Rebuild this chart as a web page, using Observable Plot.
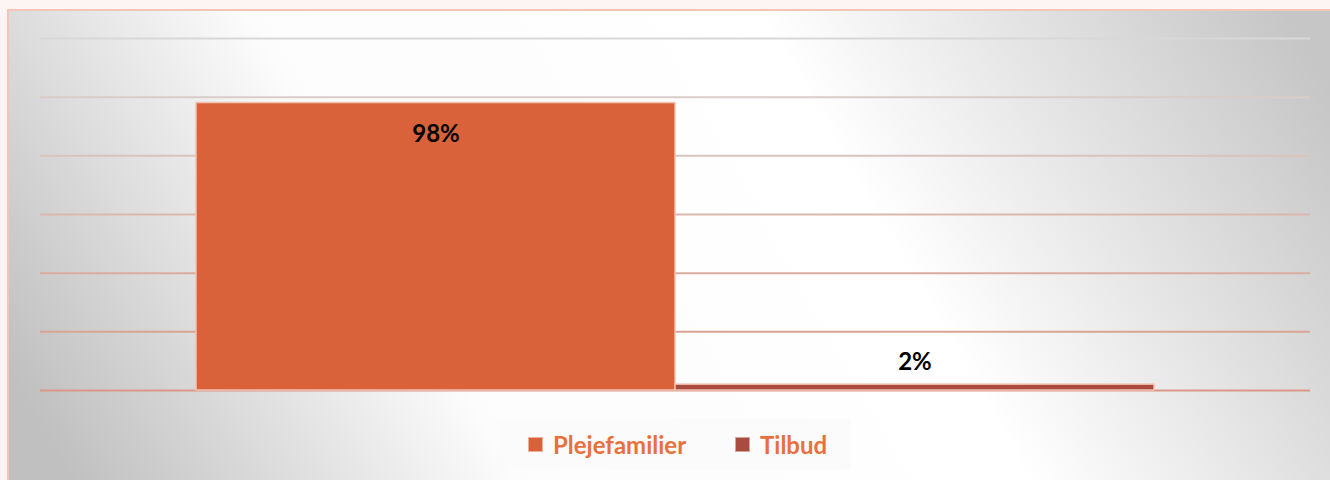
<!DOCTYPE html>
<html><head><meta charset="utf-8">
<script src="https://cdn.jsdelivr.net/npm/d3@7"></script>
<script src="https://cdn.jsdelivr.net/npm/@observablehq/plot@0.6"></script>
<style>
body{margin:0;background:#fdf5f4;width:1330px;height:480px;overflow:hidden;position:relative;font-family:Lato,sans-serif}
#panel{position:absolute;left:7px;top:9px;width:1321px;height:469px;border-left:2px solid #f6c4b2;border-top:2px solid #f6c4b2;background:linear-gradient(60deg,#c0c0c0 4%,#fcfcfc 32%,#ffffff 64%,#c6c6c6 97%)}
#chart{position:absolute;left:0;top:0}
#legend{position:absolute;left:498px;top:419px;width:353px;height:51px;background:rgba(250,250,250,0.8);font-weight:bold;font-size:24px;color:#e8703d}
.item{position:absolute;top:0;height:51px;display:flex;align-items:center}
.sw{width:13px;height:13px;margin-right:10px;border:1px solid rgba(255,255,255,0.5)}
</style>
</head><body>
<div id="panel"></div>
<div id="chart"></div>
<div id="legend"></div>
<script>
const series = ["Plejefamilier", "Tilbud"];
const values = [98, 2];
const labels = ["98%", "2%"];
const colors = ["#d9623a", "#a94b3f"];
const gridTicks = [0, 20, 40, 60, 80, 100, 120];

const data = series.map((s, i) => ({series: s, value: values[i], label: labels[i], color: colors[i]}));
const gridColor = d3.interpolateRgb("#dc9886", "#d8d8d8");

const plot = Plot.plot({
  width: 1330,
  height: 410,
  marginLeft: 40,
  marginRight: 20,
  marginTop: 38,
  marginBottom: 20,
  style: {background: "transparent", fontFamily: "Lato, sans-serif", overflow: "visible"},
  x: {domain: series, paddingInner: 0, paddingOuter: 0.323, axis: null},
  y: {domain: [0, 120], axis: null},
  marks: [
    Plot.ruleY(gridTicks, {y: d => d, stroke: d => gridColor(d / 120), strokeWidth: 2}),
    Plot.barY(data, {x: "series", y: "value", fill: d => d.color, stroke: "#f3c1b0", strokeWidth: 1.5}),
    Plot.text(data.filter(d => d.value >= 10), {x: "series", y: "value", text: "label", dy: 31, fontSize: 24, fontWeight: "bold", fill: "black"}),
    Plot.text(data.filter(d => d.value < 10), {x: "series", y: "value", text: "label", dy: -22, fontSize: 24, fontWeight: "bold", fill: "black"})
  ]
});
document.getElementById("chart").appendChild(plot);

const legend = document.getElementById("legend");
const lefts = [30, 237];
series.forEach((s, i) => {
  const it = document.createElement("div");
  it.className = "item";
  it.style.left = lefts[i] + "px";
  const sw = document.createElement("div");
  sw.className = "sw";
  sw.style.background = colors[i];
  const t = document.createElement("span");
  t.textContent = s;
  it.appendChild(sw); it.appendChild(t);
  legend.appendChild(it);
});
</script>
</body></html>
